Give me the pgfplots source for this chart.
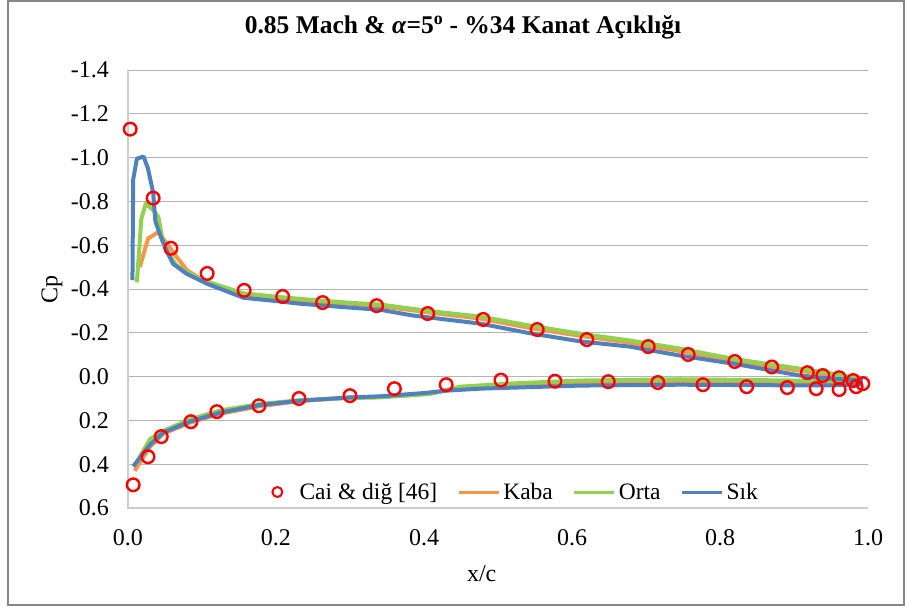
\documentclass[border=0pt]{standalone}
\usepackage{fontspec}
\setmainfont{Liberation Serif}
\usepackage{pgfplots}
\pgfplotsset{compat=1.18}
\definecolor{kaba}{RGB}{247,150,70}
\definecolor{orta}{RGB}{146,208,80}
\definecolor{sik}{RGB}{79,129,189}
\definecolor{gridc}{RGB}{180,180,180}
\definecolor{axc}{RGB}{205,205,205}
\definecolor{framec}{RGB}{134,134,134}
\pgfplotsset{
  lineleg/.style={legend image code/.code={\draw[##1] (0pt,0pt) -- (40pt,0pt);}},
  markleg/.style={legend image code/.code={\path (-6pt,0pt) (19pt,0pt); \draw[##1] plot coordinates {(0pt,0pt)};}},
}
\begin{document}
\begin{tikzpicture}
\useasboundingbox (-128pt,-100pt) rectangle (777pt,508pt);
\draw[framec, line width=2.5pt] (-120pt,-97pt) rectangle (776pt,507pt);
\begin{axis}[
  scale only axis, width=740pt, height=438pt,
  at={(0pt,0pt)}, anchor=south west,
  xmin=0, xmax=1, ymin=-1.4, ymax=0.6, y dir=reverse,
  xtick={0,0.2,0.4,0.6,0.8,1},
  ytick={-1.4,-1.2,-1,-0.8,-0.6,-0.4,-0.2,0,0.2,0.4,0.6},
  ymajorgrids, grid style={gridc, line width=1pt},
  axis line style={draw=none},
  major tick length=0pt,
  clip=false,
  /pgf/number format/fixed, /pgf/number format/fixed zerofill,
  /pgf/number format/precision=1, /pgf/number format/assume math mode=true,
  ticklabel style={font=\fontsize{24}{27}\selectfont, inner sep=0pt},
  yticklabel style={anchor=east, xshift=-19pt},
  xticklabel style={anchor=north, yshift=-21pt},
  xlabel={x/c}, ylabel={Cp},
  label style={font=\fontsize{24}{28}\selectfont},
  xlabel style={at={(axis description cs:0.478,-0.1507)}, anchor=center},
  ylabel style={at={(axis description cs:-0.1027,0.5)}, rotate=0, anchor=center},
  title={0.85 Mach \& \textit{α}=5\textsuperscript{o} - \%34 Kanat Açıklığı},
  title style={at={(axis description cs:0.4527,1.0845)}, anchor=center, font=\fontsize{25.5}{30}\selectfont\bfseries},
  legend style={at={(axis description cs:0.1932,0.0365)}, anchor=west, draw=none, fill=none,
    font=\fontsize{23.5}{26}\selectfont, inner sep=0pt, nodes={inner sep=3pt},
    /tikz/every even column/.append style={column sep=17pt}},
  legend columns=-1,
]
\addlegendimage{only marks, mark=o, red, mark size=5pt, mark options={line width=2pt}, markleg}
\addlegendentry{Cai \& diğ [46]}
\addlegendimage{kaba, line width=3pt, lineleg}
\addlegendentry{Kaba}
\addlegendimage{orta, line width=3pt, lineleg}
\addlegendentry{Orta}
\addlegendimage{sik, line width=3pt, lineleg}
\addlegendentry{Sık}

\draw[axc, line width=1.3pt] (axis cs:0,-1.4) -- (axis cs:0,0.6) -- (axis cs:1,0.6);

% Kaba
\addplot[kaba, line width=4pt, line join=round, forget plot] coordinates {
(0.016,-0.50) (0.027,-0.63) (0.041,-0.66) (0.052,-0.61) (0.066,-0.545) (0.080,-0.485)
(0.106,-0.430) (0.156,-0.375) (0.200,-0.360) (0.232,-0.345) (0.300,-0.333) (0.341,-0.322)
(0.408,-0.292) (0.476,-0.265) (0.543,-0.222) (0.611,-0.186) (0.678,-0.155) (0.746,-0.117)
(0.818,-0.072) (0.908,-0.027) (0.953,-0.006) (0.993,0.014)};
\addplot[kaba, line width=4pt, line join=round, forget plot] coordinates {
(0.009,0.43) (0.030,0.32) (0.048,0.26) (0.084,0.21) (0.124,0.17) (0.178,0.135) (0.232,0.112)
(0.300,0.095) (0.341,0.093) (0.408,0.078) (0.449,0.050) (0.520,0.036) (0.611,0.027)
(0.700,0.024) (0.800,0.025) (0.900,0.026) (0.993,0.026)};
% Orta
\addplot[orta, line width=4pt, line join=round, forget plot] coordinates {
(0.012,-0.43) (0.018,-0.72) (0.024,-0.79) (0.034,-0.76) (0.041,-0.73) (0.047,-0.62)
(0.055,-0.56) (0.065,-0.51) (0.080,-0.475) (0.106,-0.435) (0.156,-0.380) (0.200,-0.365)
(0.232,-0.355) (0.300,-0.337) (0.341,-0.329) (0.408,-0.299) (0.476,-0.274) (0.543,-0.233)
(0.611,-0.196) (0.678,-0.165) (0.746,-0.128) (0.818,-0.081) (0.908,-0.036) (0.953,-0.013)
(0.993,0.012)};
\addplot[orta, line width=4pt, line join=round, forget plot] coordinates {
(0.012,0.39) (0.030,0.284) (0.048,0.247) (0.084,0.195) (0.124,0.155) (0.178,0.125)
(0.232,0.108) (0.300,0.098) (0.341,0.095) (0.408,0.079) (0.449,0.046) (0.520,0.031)
(0.611,0.018) (0.746,0.012) (0.800,0.014) (0.900,0.018) (0.950,0.020) (0.993,0.020)};
% Sik
\addplot[sik, line width=4pt, line join=round, forget plot] coordinates {
(0.006,-0.44) (0.007,-0.90) (0.012,-0.995) (0.021,-1.005) (0.027,-0.95) (0.034,-0.84)
(0.037,-0.71) (0.043,-0.65) (0.052,-0.575) (0.061,-0.515) (0.079,-0.470) (0.106,-0.425)
(0.156,-0.360) (0.200,-0.345) (0.232,-0.333) (0.300,-0.315) (0.341,-0.305) (0.385,-0.279)
(0.476,-0.242) (0.543,-0.198) (0.611,-0.161) (0.678,-0.137) (0.746,-0.096) (0.818,-0.059)
(0.908,-0.005) (0.953,0.010) (0.993,0.018)};
\addplot[sik, line width=4pt, line join=round, forget plot] coordinates {
(0.007,0.41) (0.030,0.31) (0.048,0.255) (0.084,0.205) (0.124,0.165) (0.178,0.130)
(0.232,0.110) (0.300,0.095) (0.341,0.090) (0.400,0.075) (0.431,0.064) (0.476,0.055)
(0.611,0.041) (0.746,0.037) (0.800,0.038) (0.900,0.040) (0.950,0.040) (0.993,0.035)};
% Cai
\addplot[only marks, mark=o, red, mark size=6.3pt, mark options={line width=2.4pt}, forget plot] coordinates {
(0.003,-1.13) (0.034,-0.815) (0.058,-0.586) (0.107,-0.471) (0.157,-0.394) (0.209,-0.366)
(0.263,-0.338) (0.336,-0.324) (0.405,-0.288) (0.480,-0.261) (0.553,-0.215) (0.620,-0.169)
(0.703,-0.137) (0.757,-0.101) (0.820,-0.069) (0.870,-0.044) (0.918,-0.018) (0.939,-0.005)
(0.961,0.005) (0.980,0.018) (0.993,0.032)
(0.007,0.494) (0.027,0.366) (0.045,0.274) (0.085,0.206) (0.120,0.160) (0.177,0.133)
(0.231,0.100) (0.300,0.087) (0.360,0.055) (0.430,0.037) (0.504,0.016) (0.577,0.021)
(0.649,0.023) (0.716,0.027) (0.777,0.037) (0.836,0.046) (0.891,0.050) (0.930,0.055)
(0.961,0.059) (0.984,0.046)};
\end{axis}
\end{tikzpicture}
\end{document}
